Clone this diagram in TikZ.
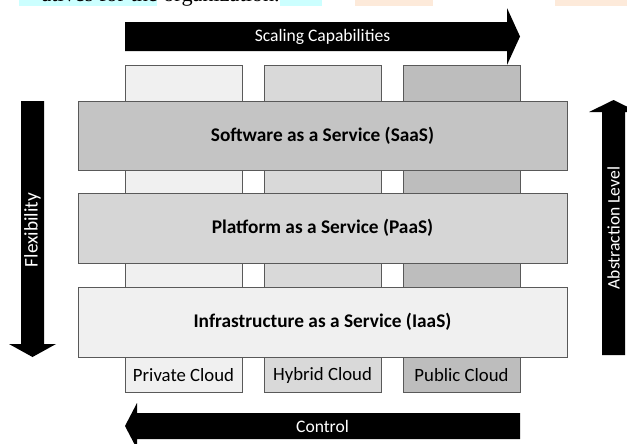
\documentclass[tikz,border=0pt]{standalone}
\usepackage{fontspec}
\setmainfont{Carlito}
\newfontfamily\bodyserif{Liberation Serif}
\definecolor{markcyan}{HTML}{CCFFFF}
\definecolor{markpeach}{HTML}{FDEADA}
\begin{document}
\begin{tikzpicture}
  [x=0.03cm, y=-0.03cm,
   column/.style={draw=black!65, line width=0.6pt},
   band/.style={draw=black!65, line width=0.6pt},
   bandlabel/.style={font=\bfseries\fontsize{16.5}{19}\selectfont},
   cloudlabel/.style={font=\fontsize{16}{19}\selectfont},
   arrowlabel/.style={text=white, font=\fontsize{15}{18}\selectfont},
   bigarrow/.style={fill=black}]

  \useasboundingbox (0,0) rectangle (627,443);
  \clip (0,0) rectangle (627,443);

  % end of the text line above
  \fill[markcyan] (19,0) rectangle (157,6);
  \fill[markcyan] (280,0) rectangle (322,6);
  \fill[markpeach] (355,0) rectangle (433,6);
  \fill[markpeach] (555,0) rectangle (627,6);
  \node[anchor=base east, inner sep=0, font=\bodyserif\fontsize{19}{22}\selectfont] (prevline) at (280,1.5) {atives for the organization.};

  % cloud columns
  \filldraw[column, fill=black!6] (125,65) rectangle (242,392);
  \filldraw[column, fill=black!15] (264,65) rectangle (381,392);
  \filldraw[column, fill=black!26] (403,65) rectangle (520,392);

  \node[cloudlabel] (private) at (183.5,375) {Private Cloud};
  \node[cloudlabel] (hybrid) at (322.5,375) {Hybrid Cloud};
  \node[cloudlabel] (public) at (461.5,375) {Public Cloud};

  % service layers
  \filldraw[band, fill=black!23] (78,101) rectangle node[bandlabel] (saas) {Software as a Service (SaaS)} (567,170);
  \filldraw[band, fill=black!16] (78,193) rectangle node[bandlabel] (paas) {Platform as a Service (PaaS)} (567,263);
  \filldraw[band, fill=black!6] (78,287) rectangle node[bandlabel] (iaas) {Infrastructure as a Service (IaaS)} (567,357);

  % Scaling arrow
  \fill[bigarrow] (125,22) -- (507,22) -- (507,8) -- (520,36.5) -- (507,65) -- (507,51) -- (125,51) -- cycle;
  \node[arrowlabel] (scaling) at (322.5,36.5) {Scaling Capabilities};

  % Flexibility arrow
  \fill[bigarrow] (21,101) -- (44,101) -- (44,344) -- (56,344) -- (32.5,357) -- (9,344) -- (21,344) -- cycle;
  \node[arrowlabel, rotate=90, font=\fontsize{16.5}{19}\selectfont] (flex) at (32.5,230) {Flexibility};

  % Abstraction arrow
  \fill[bigarrow] (602,355) -- (625,355) -- (625,112) -- (638,112) -- (613.5,100) -- (589,112) -- (602,112) -- cycle;
  \node[arrowlabel, rotate=90] (abstr) at (613.5,228) {Abstraction Level};

  % Control arrow
  \fill[bigarrow] (520,413) -- (520,439) -- (137,439) -- (137,449) -- (125,426) -- (137,403) -- (137,413) -- cycle;
  \node[arrowlabel] (control) at (322.5,426) {Control};

\end{tikzpicture}
\end{document}
